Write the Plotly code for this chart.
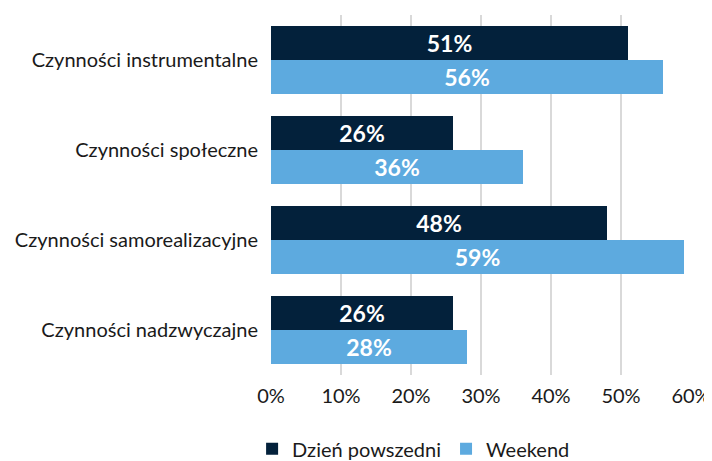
import plotly.graph_objects as go

# Data
categories = ['Czynności instrumentalne', 'Czynności społeczne',
              'Czynności samorealizacyjne', 'Czynności nadzwyczajne']
weekday = [51, 26, 48, 26]
weekend = [56, 36, 59, 28]
series_names = ['Dzień powszedni', 'Weekend']
colors = ['#03213B', '#5DAADF']

fig = go.Figure()
for name, vals, col in zip(series_names, [weekday, weekend], colors):
    fig.add_trace(go.Bar(
        y=categories, x=vals, name=name, orientation='h',
        marker={'color': col, 'line': {'width': 0}},
        text=[f'{v}%' for v in vals], textposition='inside',
        insidetextanchor='middle',
        textfont={'family': 'Lato', 'size': 23, 'color': 'white', 'weight': 'bold'},
    ))

# page body adds an 8px offset, so the figure is a bit smaller than the window
fig.update_layout(
    width=704, height=453,
    margin={'l': 263, 'r': 21, 't': 7, 'b': 86, 'autoexpand': False},
    barmode='group', bargap=0.244, bargroupgap=0,
    plot_bgcolor='white', paper_bgcolor='white',
    font={'family': 'Lato', 'size': 20, 'color': '#1a1a1a'},
    uniformtext={'minsize': 23, 'mode': 'show'},
    legend={'orientation': 'h', 'x': -0.045, 'xanchor': 'left', 'y': -0.151,
            'yanchor': 'top', 'itemwidth': 30, 'font': {'size': 20}},
)
fig.update_xaxes(range=[0, 60], dtick=10, ticksuffix='%', showgrid=True,
                 gridcolor='#D9D9D9', gridwidth=2, zeroline=False,
                 showline=False, ticks='', ticklabelstandoff=7,
                 automargin=False)
fig.update_yaxes(autorange='reversed', showline=False, ticks='',
                 ticklabelstandoff=12, automargin=False)

fig.write_html('out.html')
